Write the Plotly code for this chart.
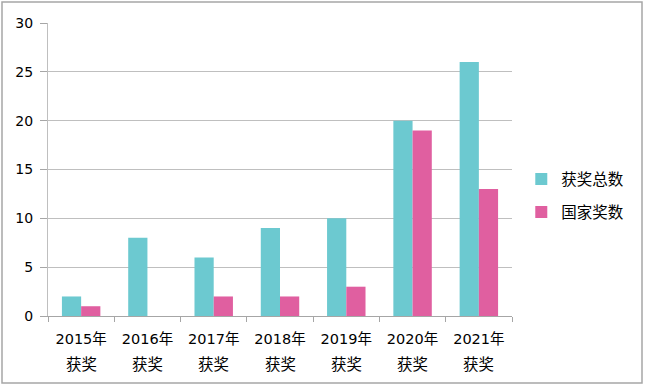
import plotly.graph_objects as go

years = ["2015年", "2016年", "2017年", "2018年", "2019年", "2020年", "2021年"]
suffix = "获奖"
total_awards = [2, 8, 6, 9, 10, 20, 26]
national_awards = [1, 0, 2, 2, 3, 19, 13]
y_ticks = [0, 5, 10, 15, 20, 25, 30]

FONT = "DejaVu Sans, Noto Sans CJK SC, sans-serif"
TEAL = "#6CC9D0"
PINK = "#E05FA0"

fig = go.Figure()
fig.add_trace(go.Bar(x=years, y=total_awards, name="获奖总数",
                     marker=dict(color=TEAL, line=dict(width=0)), legendgroup="a"))
fig.add_trace(go.Bar(x=years, y=national_awards, name="国家奖数",
                     marker=dict(color=PINK, line=dict(width=0)), legendgroup="b"))

L, R, T, B = 48, 133, 23, 71
W, H = 645, 387
pw, ph = W - L - R, H - T - B

def px(x):
    return (x - L) / pw

def py(y):
    return (H - B - y) / ph

annotations = [dict(x=yr, y=py(354), xref="x", yref="paper", text=suffix,
                    showarrow=False, xanchor="center", yanchor="top",
                    font=dict(size=15.5, family=FONT, color="#000000"))
               for yr in years]

fig.update_layout(
    width=W, height=H,
    margin=dict(l=L, r=R, t=T, b=B, pad=0, autoexpand=False),
    paper_bgcolor="white", plot_bgcolor="white",
    barmode="group", bargap=0.42, bargroupgap=0,
    font=dict(family=FONT, size=14, color="#000000"),
    showlegend=True,
    legend=dict(x=1.02, y=0.41, xanchor="left", yanchor="middle",
                font=dict(size=15.5, family=FONT), tracegroupgap=10,
                itemwidth=30, bgcolor="rgba(0,0,0,0)"),
    xaxis=dict(showgrid=False, showline=True, linecolor="#A6A6A6", linewidth=1,
               ticks="outside", tickson="boundaries", ticklen=5, tickcolor="#A6A6A6",
               ticklabelstandoff=10,
               tickfont=dict(size=14.5, family=FONT), fixedrange=True, automargin=False),
    yaxis=dict(range=[0, 30], tickvals=y_ticks, showgrid=True, gridcolor="#BFBFBF",
               gridwidth=1, showline=True, linecolor="#BFBFBF", linewidth=1,
               ticks="outside", ticklen=7, tickcolor="#A6A6A6", zeroline=False,
               ticklabelstandoff=4,
               tickfont=dict(size=14, family=FONT), fixedrange=True, automargin=False),
    annotations=annotations,
    shapes=[dict(type="rect", xref="paper", yref="paper",
                 x0=px(2), x1=px(642), y0=py(383), y1=py(2),
                 line=dict(color="#A6A6A6", width=1.5), fillcolor="rgba(0,0,0,0)",
                 layer="below")],
)

fig.write_html("out.html", config={"displayModeBar": False},
               post_script="document.body.style.margin='0';document.body.style.padding='0';")
